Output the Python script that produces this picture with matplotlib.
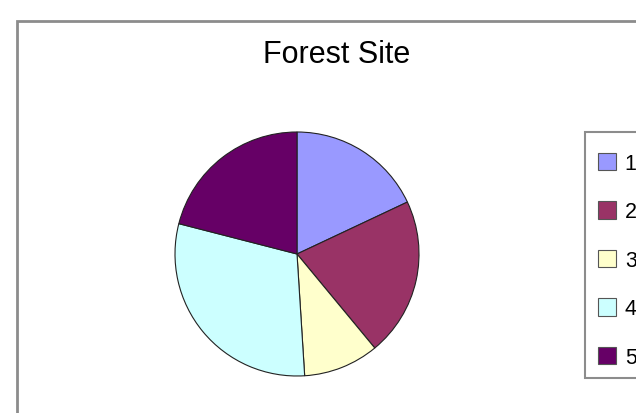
import matplotlib.pyplot as plt
from matplotlib.patches import Rectangle

# Share of each class at the forest site
labels = ["1", "2", "3", "4", "5"]
shares = [18, 21, 10, 30, 21]
colors = ["#9999FF", "#993366", "#FFFFCC", "#CCFFFF", "#660066"]

plt.rcParams['font.family'] = ['Liberation Sans', 'DejaVu Sans']

W, H = 636, 414
fig = plt.figure(figsize=(W / 100, H / 100), dpi=100)

# Chart area border (runs off the right and bottom edges)
fig.patches.append(Rectangle((17 / W, -0.1), 1.2, 1 - 22 / H + 0.1,
                             transform=fig.transFigure, fill=False,
                             edgecolor="#8c8c8c", linewidth=2))

fig.text(337 / W, 1 - 55 / H, "Forest Site", ha="center", va="center",
         fontsize=22)

# Pie centred near (297, 255) px with radius 122 px
cx, cy, r = 297, 255, 122
ax = fig.add_axes([(cx - r) / W, (H - cy - r) / H, 2 * r / W, 2 * r / H])
wedges, _ = ax.pie(shares, colors=colors, startangle=90, counterclock=False,
                   wedgeprops=dict(edgecolor="#222222", linewidth=0.8))
ax.set_xlim(-1, 1)
ax.set_ylim(-1, 1)
ax.axis("off")

# Legend box, drawn separately so its padding can differ top and bottom
fig.patches.append(Rectangle((585 / W, 1 - 379 / H), 0.5, 246 / H,
                             transform=fig.transFigure, facecolor="white",
                             edgecolor="#8c8c8c", linewidth=1.5))
leg = fig.legend(wedges, labels, loc="upper left",
                 bbox_to_anchor=(585 / W, 1 - 141 / H),
                 bbox_transform=fig.transFigure, fontsize=15.5,
                 frameon=False, borderaxespad=0,
                 borderpad=0.6, labelspacing=1.275, handlelength=0.85,
                 handleheight=0.85, handletextpad=0.4)
for h in leg.legend_handles:
    h.set_edgecolor("#555555")
    h.set_linewidth(0.8)

fig.savefig("out.png", dpi=100)
